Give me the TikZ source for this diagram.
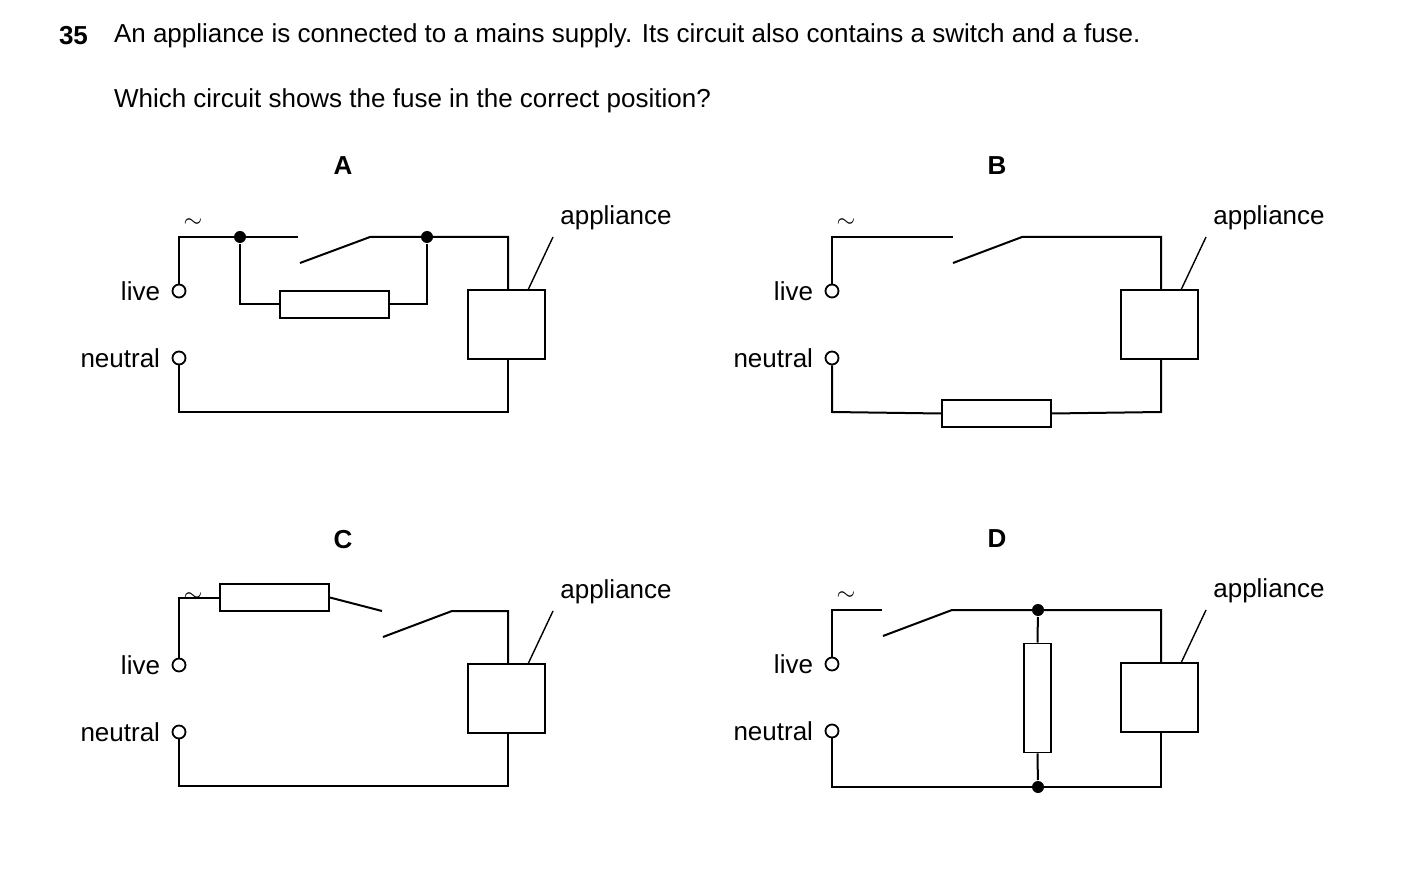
\documentclass[tikz,border=0pt]{standalone}
\usepackage{fontspec}
\setmainfont{Liberation Sans}
\begin{document}
\begin{tikzpicture}[x=0.5pt,y=-0.5pt,line width=1pt,
  lbl/.style={font=\fontsize{13}{15}\selectfont,inner sep=0pt},
  term/.style={circle,draw,fill=white,minimum size=6.5pt,inner sep=0pt,line width=0.9pt},
  dot/.style={circle,fill,minimum size=6pt,inner sep=0pt},
  fuseh/.style={draw,minimum width=54.5pt,minimum height=13.5pt,inner sep=0pt,line width=0.9pt},
  fusev/.style={draw,minimum width=13.5pt,minimum height=54.5pt,inner sep=0pt,line width=0.9pt},
  appl/.style={draw,minimum width=38.5pt,minimum height=34.5pt,inner sep=0pt,line width=0.9pt}]
\useasboundingbox (0,0) rectangle (1403,887);
\node[lbl,font=\fontsize{13}{15}\selectfont\bfseries,anchor=west] (num) at (58,36) {35};
\node[lbl,anchor=west] (q1) at (113,36) {An appliance is connected to a mains supply. Its circuit also contains a switch and a fuse.};
\node[lbl,anchor=west] (q2) at (113,101) {Which circuit shows the fuse in the correct position?};
% common parts
\newcommand{\supply}[2]{%
  \node[term] (#1L) at (#2,291) {};
  \node[term] (#1N) at (#2,358) {};
  \node[lbl,anchor=east] (#1live) at ([xshift=-9]#1L.center) {live};
  \node[lbl,anchor=east] (#1neu) at ([xshift=-9]#1N.center) {neutral};
  \node[lbl] (#1tl) at ([xshift=7,yshift=34]#1L.center) {\fontsize{12}{12}\selectfont$\sim$};
}
% ===== A =====
\node[lbl,font=\fontsize{13}{15}\selectfont\bfseries] (la) at (343,166) {A};
\supply{a}{179}
\node[appl] (aA) at (506.5,324.5) {};
\node[fuseh] (aF) at (334.5,304.5) {};
\node[dot] (ad1) at (240,237) {};
\node[dot] (ad2) at (427,237) {};
\coordinate (as1) at (298,237); \coordinate (as2) at (300,263); \coordinate (as3) at (370,237);
\draw (aL.north) |- (as1);
\draw (as2) -- (as3) -- (508,237) -- (aA.north -| 508,0);
\draw (ad1) |- (aF.west); \draw (aF.east) -| (ad2);
\draw (aA.south -| 508,0) -- (508,412) -| (aN.south);
\node[lbl] (aap) at (616,218) {appliance};
\draw[line width=0.7pt] (553,237) -- (528,290);
% ===== B =====
\node[lbl,font=\fontsize{13}{15}\selectfont\bfseries] (lb) at (997,166) {B};
\supply{b}{832}
\node[appl] (bA) at (1159.5,324.5) {};
\node[fuseh] (bF) at (996.5,413.5) {};
\draw (bL.north) |- (953,237);
\draw (953,263) -- (1022,237) -- (1161,237) -- (bA.north -| 1161,0);
\draw (bA.south -| 1161,0) -- (1161,412) -- (bF.east);
\draw (bF.west) -- (832,412) -- (bN.south);
\node[lbl] (bap) at (1269,218) {appliance};
\draw[line width=0.7pt] (1206,237) -- (1181,290);
% ===== C =====
\begin{scope}[yshift=-187pt]
\node[lbl,font=\fontsize{13}{15}\selectfont\bfseries] (lc) at (343,166) {C};
\supply{c}{179}
\node[appl] (cA) at (506.5,324.5) {};
\node[fuseh] (cF) at (274.5,223.5) {};
\draw (cL.north) |- (cF.west);
\draw (cF.east) -- (382,237);
\draw (383,263) -- (452,237) -- (508,237) -- (cA.north -| 508,0);
\draw (cA.south -| 508,0) -- (508,412) -| (cN.south);
\node[lbl] (cap) at (616,218) {appliance};
\draw[line width=0.7pt] (553,237) -- (528,290);
\end{scope}
% ===== D =====
\begin{scope}[yshift=-186.5pt]
\node[lbl,font=\fontsize{13}{15}\selectfont\bfseries] (ld) at (997,166) {D};
\supply{d}{832}
\node[appl] (dA) at (1159.5,324.5) {};
\node[fusev] (dF) at (1037.5,325) {};
\node[dot] (dd1) at (1038,237) {};
\node[dot] (dd2) at (1038,414) {};
\draw (dL.north) |- (882,237);
\draw (883,263) -- (952,237) -- (1161,237) -- (dA.north -| 1161,0);
\draw (dA.south -| 1161,0) -- (1161,414) -- (832,414) -- (dN.south);
\draw (dd1) -- (dF.north); \draw (dF.south) -- (dd2);
\node[lbl] (dap) at (1269,218) {appliance};
\draw[line width=0.7pt] (1206,237) -- (1181,290);
\end{scope}
\end{tikzpicture}
\end{document}
